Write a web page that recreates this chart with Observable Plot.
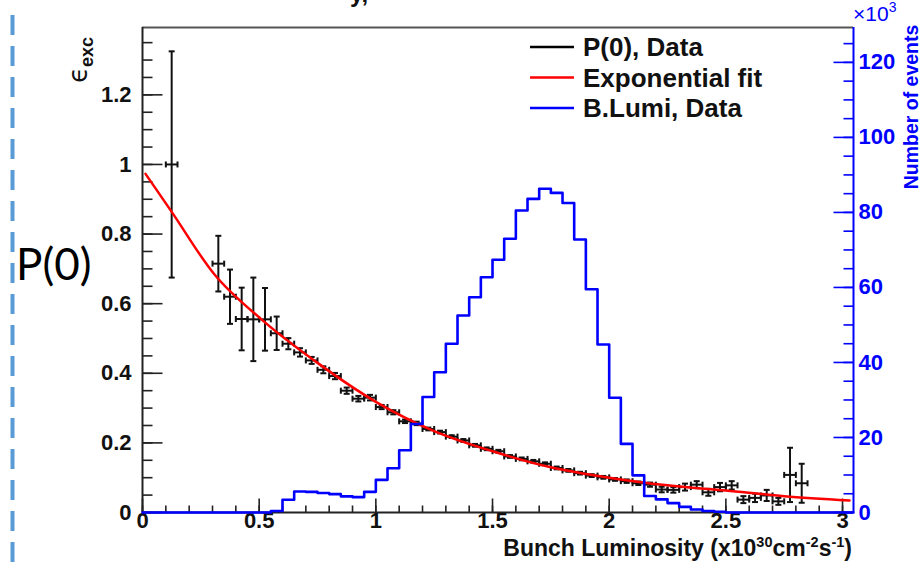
<!DOCTYPE html>
<html><head><meta charset="utf-8">
<script src="https://cdn.jsdelivr.net/npm/d3@7"></script>
<script src="https://cdn.jsdelivr.net/npm/@observablehq/plot@0.6"></script>
<style>
html,body{margin:0;padding:0;background:#fff;}
#chart{position:relative;width:924px;height:566px;overflow:hidden;}
svg{display:block;}
</style></head><body><div id="chart"></div>
<script>
// ---------- data ----------
const p0X = [0.125,0.325,0.375,0.425,0.475,0.525,0.575,0.625,0.675,0.725,0.775,0.825,0.875,0.925,0.975,1.025,1.075,1.125,1.175,1.225,1.275,1.325,1.375,1.425,1.475,1.525,1.575,1.625,1.675,1.725,1.775,1.825,1.875,1.925,1.975,2.025,2.075,2.125,2.175,2.225,2.275,2.325,2.375,2.425,2.475,2.525,2.575,2.625,2.675,2.725,2.775,2.825];
const p0Y = [1.0,0.715,0.62,0.556,0.555,0.555,0.515,0.485,0.46,0.437,0.41,0.392,0.35,0.327,0.33,0.303,0.288,0.262,0.256,0.24,0.231,0.218,0.207,0.193,0.183,0.176,0.161,0.154,0.147,0.14,0.128,0.121,0.113,0.106,0.101,0.095,0.09,0.084,0.08,0.066,0.065,0.073,0.08,0.058,0.073,0.078,0.037,0.042,0.049,0.032,0.108,0.084];
const p0Err = [0.325,0.08,0.078,0.09,0.12,0.09,0.048,0.016,0.012,0.01,0.01,0.009,0.009,0.008,0.008,0.006,0.006,0.005,0.005,0.004,0.004,0.004,0.004,0.004,0.004,0.004,0.004,0.004,0.004,0.004,0.004,0.004,0.004,0.004,0.004,0.004,0.005,0.005,0.006,0.008,0.008,0.01,0.01,0.01,0.012,0.012,0.01,0.012,0.016,0.01,0.078,0.056];

const fitX = [0.013,0.123,0.306,0.506,0.756,1.0,1.25,1.5,1.75,2.0,2.25,2.5,2.75,3.03];
const fitY = [0.973,0.866,0.686,0.557,0.427,0.318,0.234,0.176,0.13,0.1,0.078,0.063,0.047,0.0345];

const lumiLo = [0.55,0.6,0.65,0.7,0.75,0.8,0.85,0.9,0.95,1.0,1.05,1.1,1.15,1.2,1.25,1.3,1.35,1.4,1.45,1.5,1.55,1.6,1.65,1.7,1.75,1.8,1.85,1.9,1.95,2.0,2.05,2.1,2.15,2.2,2.25,2.3,2.35,2.4,2.45];
const lumiK = [0.4,3.4,5.6,5.5,5.2,4.9,4.3,4.1,5.5,8.7,11.8,16.6,23.6,30.8,37.4,45.0,52.5,57.4,62.7,67.4,73.0,80.5,83.6,86.3,85.2,82.5,72.8,59.5,44.8,30.6,18.3,9.9,4.4,3.5,2.5,1.5,0.8,0.4,0.2];

const xTicks = [0,0.5,1,1.5,2,2.5,3];
const xTickLabels = ["0","0.5","1","1.5","2","2.5","3"];
const yTicks = [0,0.2,0.4,0.6,0.8,1,1.2];
const yTickLabels = ["0","0.2","0.4","0.6","0.8","1","1.2"];
const rTicks = [0,20,40,60,80,100,120];
const rTickLabels = ["0","20","40","60","80","100","120"];
const legendLabels = ["P(0), Data","Exponential fit","B.Lumi, Data"];
const legendColors = ["#000000","#ff0000","#0000ff"];

// ---------- layout ----------
const F = "'Liberation Sans', Arial, Helvetica, sans-serif";
const BLUE = "#0000ff";
const xMax = 3.047, yMax = 1.3935, rMax = 129.3;
const kR = yMax / rMax;
const binW = 0.05;

const p0 = p0X.map((x,i)=>({x, y:p0Y[i], e:p0Err[i]}));
const fit = fitX.map((x,i)=>({x, y:fitY[i]}));
const lumi = [{x:0,y:0}, ...lumiLo.map((x,i)=>({x, y:lumiK[i]*kR})), {x:lumiLo[lumiLo.length-1]+binW, y:0}, {x:xMax, y:0}];

const seg = (x1,y1,x2,y2) => ({draw(ctx){ ctx.moveTo(x1,y1); ctx.lineTo(x2,y2); }});
const yMinor = d3.range(0, 1.39, 0.05);
const xMinor = d3.range(0, 3.05, 0.1);
const rMinor = d3.range(0, 129, 5);

const TK = "#222";
const svg = Plot.plot({
  width: 924, height: 566,
  marginLeft: 142, marginRight: 71, marginTop: 27, marginBottom: 54,
  x: {domain: [0, xMax], axis: null},
  y: {domain: [0, yMax], axis: null},
  style: {fontFamily: F, background: "white", overflow: "visible"},
  marks: [
    // frame
    Plot.ruleY([yMax], {stroke: "#555", strokeWidth: 2}),
    Plot.ruleX([0], {stroke: TK, strokeWidth: 2}),
    Plot.ruleY([0], {stroke: TK, strokeWidth: 2}),
    Plot.ruleX([xMax], {stroke: BLUE, strokeWidth: 2}),
    // left ticks
    Plot.dot(yMinor, {y: d=>d, frameAnchor: "left", symbol: seg(0,0,10,0), fill: "none", stroke: TK, strokeWidth: 1.6}),
    Plot.dot(yTicks, {y: d=>d, frameAnchor: "left", symbol: seg(0,0,20,0), fill: "none", stroke: TK, strokeWidth: 1.6}),
    // bottom ticks
    Plot.dot(xMinor, {x: d=>d, frameAnchor: "bottom", symbol: seg(0,0,0,-7), fill: "none", stroke: TK, strokeWidth: 1.6}),
    Plot.dot(xTicks, {x: d=>d, frameAnchor: "bottom", symbol: seg(0,0,0,-14), fill: "none", stroke: TK, strokeWidth: 1.6}),
    // right ticks
    Plot.dot(rMinor, {y: d=>d*kR, frameAnchor: "right", symbol: seg(0,0,-10,0), fill: "none", stroke: BLUE, strokeWidth: 1.6}),
    Plot.dot(rTicks, {y: d=>d*kR, frameAnchor: "right", symbol: seg(0,0,-20,0), fill: "none", stroke: BLUE, strokeWidth: 1.6}),
    // tick labels
    Plot.text(yTicks, {y: d=>d, text: (d,i)=>yTickLabels[i], frameAnchor: "left", textAnchor: "end", dx: -11, fontSize: 22, fontWeight: "bold", fill: "#111"}),
    Plot.text(xTicks, {x: d=>d, text: (d,i)=>xTickLabels[i], frameAnchor: "bottom", dy: 15, fontSize: 22, fontWeight: "bold", fill: "#111"}),
    Plot.text(rTicks, {y: d=>d*kR, text: (d,i)=>rTickLabels[i], frameAnchor: "right", textAnchor: "start", dx: 5, fontSize: 22, fontWeight: "bold", fill: BLUE}),
    // P(0) data with error bars
    Plot.ruleX(p0, {x: "x", y1: d=>d.y-d.e, y2: d=>d.y+d.e, stroke: "#111", strokeWidth: 2}),
    Plot.ruleY(p0, {y: "y", x1: d=>d.x-binW/2, x2: d=>d.x+binW/2, stroke: "#111", strokeWidth: 2}),
    Plot.dot(p0, {x: "x", y: d=>d.y+d.e, symbol: seg(-3,0,3,0), fill: "none", stroke: "#111", strokeWidth: 2}),
    Plot.dot(p0, {x: "x", y: d=>d.y-d.e, symbol: seg(-3,0,3,0), fill: "none", stroke: "#111", strokeWidth: 2}),
    Plot.dot(p0, {x: d=>d.x-binW/2, y: "y", symbol: seg(0,-3,0,3), fill: "none", stroke: "#111", strokeWidth: 2}),
    Plot.dot(p0, {x: d=>d.x+binW/2, y: "y", symbol: seg(0,-3,0,3), fill: "none", stroke: "#111", strokeWidth: 2}),
    // fit
    Plot.line(fit, {x: "x", y: "y", curve: "monotone-x", stroke: "#ff0000", strokeWidth: 2.5}),
    // lumi histogram
    Plot.line(lumi, {x: "x", y: "y", curve: "step-after", stroke: BLUE, strokeWidth: 2.6})
  ]
});
document.getElementById("chart").appendChild(svg);

// ---------- annotations ----------
const s = d3.select(svg);
const g = s.append("g").attr("text-anchor","start");
// dashed slide line
g.append("line").attr("x1",12.5).attr("x2",12.5).attr("y1",15).attr("y2",566)
  .attr("stroke","#5b9bd5").attr("stroke-width",4).attr("stroke-dasharray","20,11");
// P(0) slide label
g.append("text").attr("x",16).attr("y",280).attr("text-anchor","start").attr("font-family","Lato, 'Open Sans', sans-serif")
  .attr("font-size",44).attr("fill","#000").text("P(0)");
// truncated title fragment
g.append("text").attr("x",350).attr("y",2).attr("text-anchor","start").attr("font-family",F).attr("font-weight","bold")
  .attr("font-size",24).attr("fill","#111").text("y,");
// left axis title
const yt = g.append("text").attr("transform","translate(87,83) rotate(-90)").attr("text-anchor","start")
  .attr("font-family",F).attr("fill","#111");
yt.append("tspan").attr("font-family","'DejaVu Sans', sans-serif").attr("font-size",26).text("ϵ");
yt.append("tspan").attr("font-weight","bold").attr("font-size",18).attr("dy",6).text("exc");
// right axis title
g.append("text").attr("transform","translate(918,107) rotate(-90)").attr("text-anchor","middle")
  .attr("font-family",F).attr("font-weight","bold").attr("font-size",19.5).attr("fill",BLUE).text("Number of events");
// x10^3
const mult = g.append("text").attr("x",853).attr("y",21).attr("text-anchor","start").attr("font-family",F).attr("font-size",21).attr("fill",BLUE);
mult.append("tspan").text("×10");
mult.append("tspan").attr("font-size",14).attr("dy",-9).text("3");
// x axis title
const xt = g.append("text").attr("x",852).attr("y",556).attr("text-anchor","end")
  .attr("font-family",F).attr("font-weight","bold").attr("font-size",23).attr("fill","#111");
[["Bunch Luminosity (x10",0],["30",1],["cm",0],["-2",1],["s",0],["-1",1],[")",0]].forEach(([t,sup],i,arr)=>{
  const prevSup = i>0 && arr[i-1][1];
  const sp = xt.append("tspan").text(t);
  if (sup) sp.attr("font-size",14.5).attr("dy",-9);
  else if (prevSup) sp.attr("dy",9);
});
// legend
legendLabels.forEach((lab,i)=>{
  const yy = 47 + i*30.5;
  g.append("line").attr("x1",530).attr("x2",574).attr("y1",yy).attr("y2",yy)
    .attr("stroke",legendColors[i]).attr("stroke-width",2.5);
  g.append("text").attr("x",583).attr("y",yy).attr("dy","0.36em").attr("text-anchor","start").attr("font-family",F)
    .attr("font-weight","bold").attr("font-size",26).attr("fill","#111").text(lab);
});
</script></body></html>
